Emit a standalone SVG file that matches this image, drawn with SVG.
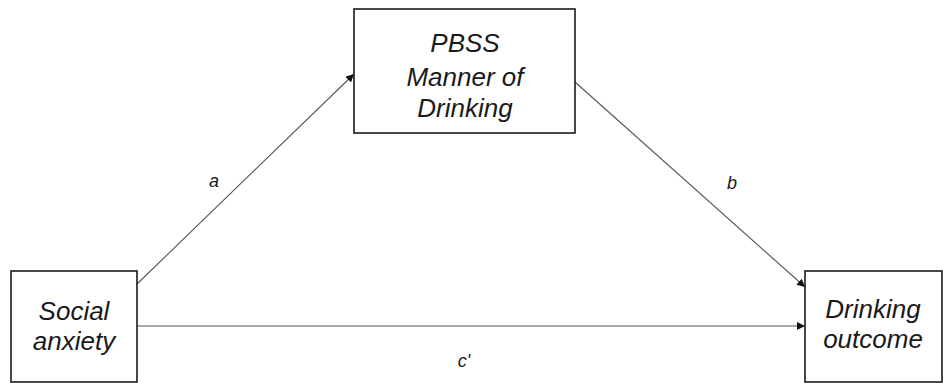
<svg xmlns="http://www.w3.org/2000/svg" width="943" height="383" viewBox="0 0 943 383">
<style>
.box{fill:#fff;stroke:#1a1a1a;stroke-width:1.6}
.t{font-family:"Liberation Sans",Arial,sans-serif;font-style:italic;font-size:26px;fill:#1a1a1a;text-anchor:middle}
.l{font-family:"Liberation Sans",Arial,sans-serif;font-style:italic;font-size:18px;fill:#1a1a1a;text-anchor:middle}
.c{stroke:#555;stroke-width:1.1;fill:none;marker-end:url(#ah)}
</style>
<defs>
<marker id="ah" viewBox="0 0 10 10" refX="10" refY="5" markerWidth="8" markerHeight="8" markerUnits="userSpaceOnUse" orient="auto">
<path d="M0,0 L10,5 L0,10 z" fill="#111"/>
</marker>
</defs>
<rect width="943" height="383" fill="#fff"/>
<g id="connectors">
<line class="c" x1="137" y1="284" x2="354" y2="74"/>
<line class="c" x1="575" y1="82" x2="805" y2="287"/>
<line class="c" x1="137" y1="326" x2="805" y2="326"/>
</g>
<g id="mediator">
<rect class="box" x="354" y="9" width="221" height="124"/>
<text class="t" x="465" y="52">PBSS</text>
<text class="t" x="465" y="86">Manner of</text>
<text class="t" x="465" y="117">Drinking</text>
</g>
<g id="predictor">
<rect class="box" x="11" y="271" width="126" height="111"/>
<text class="t" x="74" y="320">Social</text>
<text class="t" x="74" y="350">anxiety</text>
</g>
<g id="outcome">
<rect class="box" x="805" y="271" width="137" height="111"/>
<text class="t" x="873" y="318">Drinking</text>
<text class="t" x="873" y="348">outcome</text>
</g>
<g id="labels">
<text class="l" x="214" y="187">a</text>
<text class="l" x="732" y="189">b</text>
<text class="l" x="464" y="367">c'</text>
</g>
</svg>
